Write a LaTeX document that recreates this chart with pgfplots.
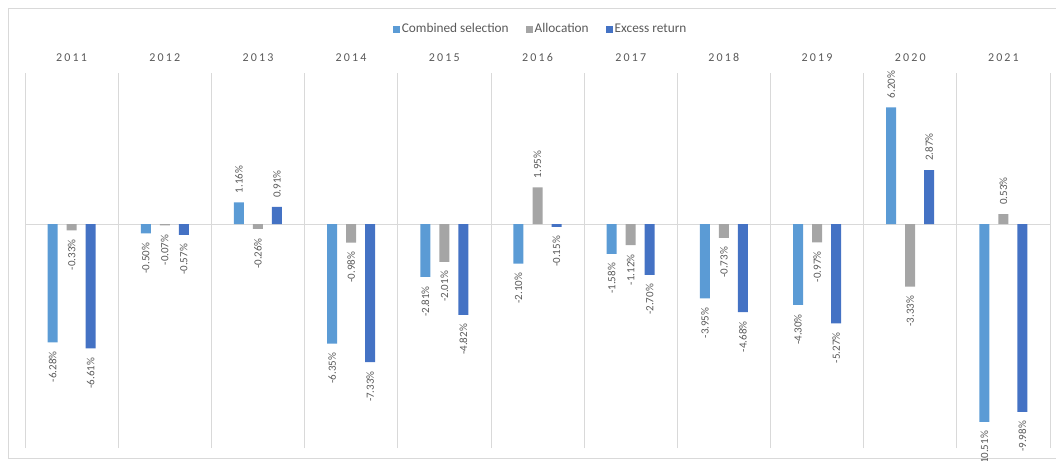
\documentclass[border=0pt]{standalone}
\usepackage{pgfplots}
\pgfplotsset{compat=1.18}
\usepackage{fontspec}
\setmainfont{Carlito}
\newfontfamily\spaced[LetterSpace=18]{Carlito}
\definecolor{cs}{HTML}{5B9BD5}
\definecolor{al}{HTML}{A5A5A5}
\definecolor{ex}{HTML}{4472C4}
\definecolor{txt}{HTML}{595959}
\definecolor{gridc}{HTML}{D9D9D9}
\pgfplotsset{
  neglab/.style={nodes near coords={\pgfmathprintnumber[fixed,fixed zerofill,precision=2,assume math mode=true]{\pgfplotspointmeta}\%},
    nodes near coords style={rotate=90, anchor=east, font=\fontsize{11}{13}\selectfont, text=txt, inner xsep=9pt, inner ysep=1pt}},
  poslab/.style={nodes near coords={\pgfmathprintnumber[fixed,fixed zerofill,precision=2,assume math mode=true]{\pgfplotspointmeta}\%},
    nodes near coords style={rotate=90, anchor=west, font=\fontsize{11}{13}\selectfont, text=txt, inner xsep=9pt, inner ysep=1pt}},
}
\begin{document}
\begin{tikzpicture}[x=1pt,y=1pt]
\useasboundingbox (0,0) rectangle (1056,460);
\draw[gridc, line width=0.8pt] (1070,452) -- (8,452) -- (8,2) -- (1070,2);
\begin{axis}[
  at={(25pt,12pt)}, anchor=south west,
  scale only axis, width=1025pt, height=375pt,
  xmin=-0.5, xmax=10.5, ymin=-11.9, ymax=8.03,
  clip=false,
  axis line style={draw=none},
  major tick length=0pt,
  xtick={0,...,10},
  xticklabels={2011,2012,2013,2014,2015,2016,2017,2018,2019,2020,2021},
  xticklabel pos=upper,
  xticklabel style={font=\spaced\fontsize{12}{14}\selectfont, text=txt, yshift=8pt},
  extra x ticks={-0.5,0.5,...,10.5},
  extra x tick labels={},
  extra x tick style={grid=major},
  ytick={0}, yticklabels={}, ymajorgrids,
  grid style={gridc, line width=0.8pt},
  legend columns=3,
  legend style={at={(0.503,1.117)}, anchor=center, draw=none, fill=none,
    font=\fontsize{13.3}{15}\selectfont, text=txt,
    /tikz/every even column/.append style={column sep=15pt}},
  legend image code/.code={\fill[#1] (0pt,-3.5pt) rectangle (7pt,3.5pt);},
]
% Combined selection (x = year index - 0.204)
\addplot[ybar, bar width=10pt, bar shift=0pt, fill=cs, draw=none, neglab]
  coordinates {(-0.204,-6.28) (0.796,-0.50) (2.796,-6.35) (3.796,-2.81) (4.796,-2.10) (5.796,-1.58) (6.796,-3.95) (7.796,-4.30) (9.796,-10.51)};
\addlegendentry{Combined selection}
\addplot[ybar, bar width=10pt, bar shift=0pt, fill=cs, draw=none, poslab, forget plot]
  coordinates {(1.796,1.16) (8.796,6.20)};
% Allocation
\addplot[ybar, bar width=10pt, bar shift=0pt, fill=al, draw=none, neglab]
  coordinates {(0,-0.33) (1,-0.07) (2,-0.26) (3,-0.98) (4,-2.01) (6,-1.12) (7,-0.73) (8,-0.97) (9,-3.33)};
\addlegendentry{Allocation}
\addplot[ybar, bar width=10pt, bar shift=0pt, fill=al, draw=none, poslab, forget plot]
  coordinates {(5,1.95) (10,0.53)};
% Excess return (x = year index + 0.204)
\addplot[ybar, bar width=10pt, bar shift=0pt, fill=ex, draw=none, neglab]
  coordinates {(0.204,-6.61) (1.204,-0.57) (3.204,-7.33) (4.204,-4.82) (5.204,-0.15) (6.204,-2.70) (7.204,-4.68) (8.204,-5.27) (10.204,-9.98)};
\addlegendentry{Excess return}
\addplot[ybar, bar width=10pt, bar shift=0pt, fill=ex, draw=none, poslab, forget plot]
  coordinates {(2.204,0.91) (9.204,2.87)};
\end{axis}
\end{tikzpicture}
\end{document}
